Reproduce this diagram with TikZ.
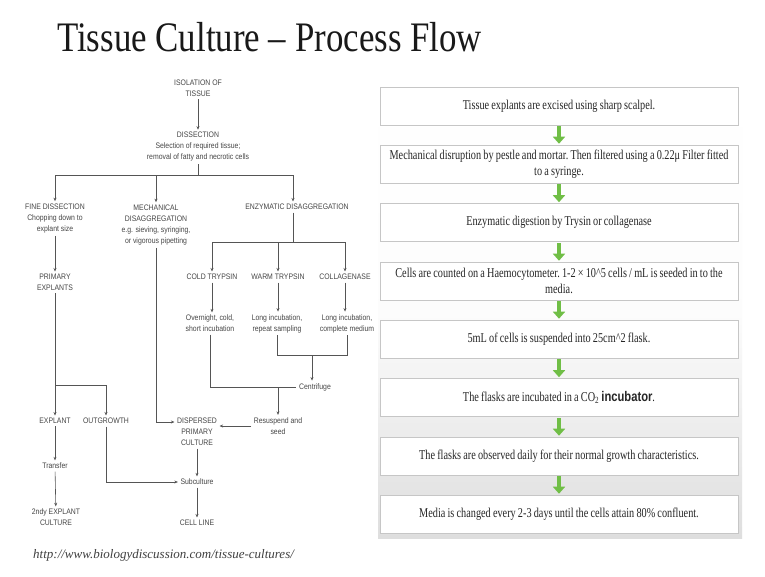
\documentclass[tikz,border=0pt]{standalone}
\usepackage{fontspec}
\setmainfont{Liberation Serif}
\newfontfamily\boxfont[FakeStretch=0.76,WordSpace=0.85]{Liberation Serif}
\newfontfamily\titlefont[FakeStretch=0.83]{Liberation Serif}
\newfontfamily\urlfont[FakeStretch=1.0]{Liberation Serif}
\newfontfamily\lfont[FakeStretch=0.86]{Liberation Sans}
\newfontfamily\boldsans[FakeStretch=0.8]{Liberation Sans}
\usetikzlibrary{arrows.meta,calc}
\definecolor{lineg}{RGB}{85,85,85}
\definecolor{txtg}{RGB}{70,70,70}
\definecolor{arrowgreen}{RGB}{112,190,70}
\definecolor{panelg}{RGB}{222,222,222}
\tikzset{
  lab/.style={font=\lfont\fontsize{8}{11}\selectfont, text=txtg, align=center, inner sep=2.5pt},
  conn/.style={draw=lineg, line width=0.6pt},
  arr/.style={conn, -{Stealth[length=3.5pt,width=3pt]}},
  stepbox/.style={draw=gray!45, line width=0.6pt, fill=white, minimum width=358pt, minimum height=38pt,
     align=center, inner sep=0pt, font=\boxfont\frenchspacing\fontsize{13.5}{16}\selectfont, text=black!85},
  garrow/.style={draw=arrowgreen, line width=4pt, -{Triangle[length=7pt,width=12pt]}, shorten >=1pt, shorten <=1pt}
}
\begin{document}
\begin{tikzpicture}[x=1pt,y=-1pt]
\useasboundingbox (0,0) rectangle (765,576);
\fill[white] (0,0) rectangle (765,576);
% title
\node[anchor=west, font=\titlefont\fontsize{42}{46}\selectfont, text=black!90, inner sep=0pt] (title) at (57,37) {Tissue Culture – Process Flow};
% url
\node[anchor=west, font=\urlfont\itshape\fontsize{13}{15}\selectfont, text=black!75, inner sep=0pt] (url) at (33,555) {http://www.biologydiscussion.com/tissue-cultures/};

% ---------- left flowchart ----------
\node[lab] (iso) at (198,88) {ISOLATION OF\\TISSUE};
\node[lab] (dis) at (198,147) {DISSECTION\\Selection of required tissue;\\removal of fatty and necrotic cells};
\node[lab] (fine) at (55,218.5) {FINE DISSECTION\\Chopping down to\\explant size};
\node[lab] (mech) at (156,225) {MECHANICAL\\DISAGGREGATION\\e.g. sieving, syringing,\\or vigorous pipetting};
\node[lab] (enz) at (297,207) {ENZYMATIC DISAGGREGATION};
\node[lab] (cold) at (212,277) {COLD TRYPSIN};
\node[lab] (warm) at (278,277) {WARM TRYPSIN};
\node[lab] (coll) at (345,277) {COLLAGENASE};
\node[lab] (coldt) at (210,323.5) {Overnight, cold,\\short incubation};
\node[lab] (warmt) at (277,323.5) {Long incubation,\\repeat sampling};
\node[lab] (collt) at (347,323.5) {Long incubation,\\complete medium};
\node[lab] (cent) at (315,387) {Centrifuge};
\node[lab] (resus) at (278,426) {Resuspend and\\seed};
\node[lab] (disp) at (197,432) {DISPERSED\\PRIMARY\\CULTURE};
\node[lab] (sub) at (197,482) {Subculture};
\node[lab] (cell) at (197,523) {CELL LINE};
\node[lab] (prim) at (55,282.5) {PRIMARY\\EXPLANTS};
\node[lab] (expl) at (55,421) {EXPLANT};
\node[lab] (outg) at (106,421) {OUTGROWTH};
\node[lab] (trans) at (55,466) {Transfer};
\node[lab] (second) at (56,517.5) {2ndy EXPLANT\\CULTURE};

\coordinate (j1) at (198,175);
\coordinate (j2) at (293,242);
\coordinate (j3) at (312,355);
\coordinate (j4) at (55,385);

\draw[arr] (iso) -- (dis);
\draw[conn] (dis.south) -- (j1);
\draw[arr] (j1) -| (fine.north);
\draw[arr] (j1) -| (enz.north -| j2);
\draw[arr] (mech.north |- j1) -- (mech.north);
\draw[conn] (enz.south -| j2) -- (j2);
\draw[arr] (j2) -| (cold.north);
\draw[arr] (j2) -| (coll.north);
\draw[arr] (warm.north |- j2) -- (warm.north);
\draw[arr] (cold) -- (cold |- coldt.north);
\draw[arr] (warm) -- (warm |- warmt.north);
\draw[arr] (coll) -- (coll |- collt.north);
\draw[conn] (warmt.south) |- (j3);
\draw[conn] (collt.south) |- (j3);
\draw[arr] (j3) -- (j3 |- cent.north);
\draw[conn] (coldt.south) |- (cent.west);
\draw[arr] (resus.north |- cent.west) -- (resus.north);
\draw[arr] (resus.west) -- (disp.east |- resus.west);
\draw[arr] (mech.south) |- ([yshift=10pt]disp.west);
\draw[arr] (disp) -- (sub);
\draw[arr] (sub) -- (cell);
\draw[arr] (fine) -- (prim);
\draw[arr] (prim) -- (expl);
\draw[arr] (j4) -| (outg.north);
\draw[arr] (expl) -- (trans);
\draw[arr] (trans) -- (second);
\draw[arr] (outg.south) |- (sub.west);

% ---------- right panel ----------
\shade[top color=white, bottom color=panelg, middle color=white!92!panelg] (378,84) rectangle (742,538);
\node[stepbox] (b1) at (559,106) {Tissue explants are excised using sharp scalpel.};
\node[stepbox] (b2) at (559,164) {Mechanical disruption by pestle and mortar. Then filtered using a 0.22μ Filter fitted\\to a syringe.};
\node[stepbox] (b3) at (559,222.5) {Enzymatic digestion by Trysin or collagenase};
\node[stepbox] (b4) at (559,281) {Cells are counted on a Haemocytometer. 1-2 × 10\^{}5 cells / mL is seeded in to the\\media.};
\node[stepbox] (b5) at (559,339) {5mL of cells is suspended into 25cm\^{}2 flask.};
\node[stepbox] (b6) at (559,397.5) {The flasks are incubated in a CO\textsubscript{2} {\boldsans\bfseries\fontsize{14}{16}\selectfont incubator}.};
\node[stepbox] (b7) at (559,456) {The flasks are observed daily for their normal growth characteristics.};
\node[stepbox] (b8) at (559,514) {Media is changed every 2-3 days until the cells attain 80\% confluent.};
\foreach \a/\b in {b1/b2,b2/b3,b3/b4,b4/b5,b5/b6,b6/b7,b7/b8}
  \draw[garrow] (\a.south) -- (\b.north);
\end{tikzpicture}
\end{document}
